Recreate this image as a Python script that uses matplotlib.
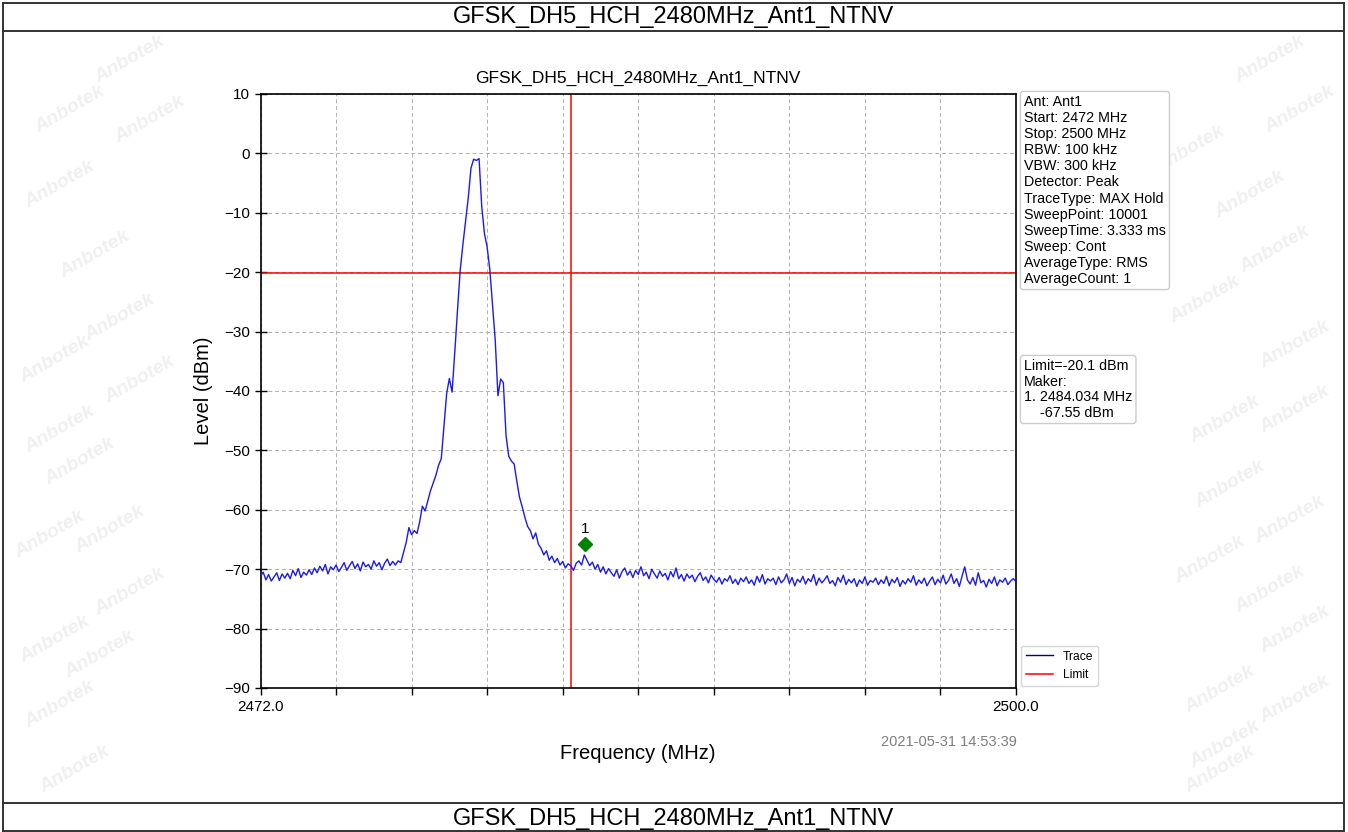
import numpy as np
import matplotlib
matplotlib.use("Agg")
import matplotlib.pyplot as plt
from matplotlib.lines import Line2D

plt.rcParams['font.family'] = ['Liberation Sans', 'DejaVu Sans']

# ---------------- data ----------------
title = "GFSK_DH5_HCH_2480MHz_Ant1_NTNV"
f_start, f_stop = 2472.0, 2500.0
limit_level = -20.1
band_edge = 2483.5
marker_freq = 2484.034
marker_level = -67.55
marker_draw_level = -65.8
y_ticks = [10, 0, -10, -20, -30, -40, -50, -60, -70, -80, -90]
x_tick_step = 2.8

levels = [
    # 2472.0 - 2472.9
    -71.2, -70.5, -71.8, -70.9, -72.0, -71.3, -70.6, -71.9, -70.8, -71.5,
    # 2473
    -70.7, -71.6, -70.2, -71.1, -69.9, -71.4, -70.5, -71.0, -70.1, -70.9,
    # 2474
    -69.8, -70.6, -69.5, -70.3, -69.2, -70.8, -69.6, -70.1, -69.3, -70.4,
    # 2475
    -69.7, -68.9, -70.2, -69.4, -68.7, -69.9, -69.1, -70.3, -68.8, -69.6,
    # 2476
    -69.2, -70.0, -68.6, -69.5, -68.9, -70.1, -69.0, -68.3, -69.4, -68.7,
    # 2477
    -69.3, -68.6, -68.9, -67.2, -65.5, -63.0, -64.2, -63.5, -64.0, -62.0,
    # 2478
    -59.4, -60.2, -58.5, -56.8, -55.5, -54.2, -52.5, -51.4, -46.0, -40.4,
    # 2479
    -37.9, -40.2, -33.5, -26.5, -19.8, -15.4, -11.5, -7.5, -2.5, -1.0,
    # 2480
    -1.2, -0.9, -9.0, -13.5, -15.8, -19.6, -25.5, -31.5, -40.8, -38.0,
    # 2481
    -38.6, -47.5, -51.0, -51.8, -52.3, -55.2, -57.9, -59.5, -61.3, -62.8,
    # 2482
    -63.5, -64.9, -63.9, -65.8, -66.5, -67.6, -66.9, -68.5, -67.8, -68.9,
    # 2483
    -68.2, -69.3, -68.7, -69.8, -69.1, -69.4, -70.2, -69.0, -68.6, -69.3,
    # 2484
    -67.6, -68.5, -69.4, -68.8, -70.0, -69.2, -70.5, -69.6, -70.8, -69.9,
    # 2485
    -70.6, -71.2, -70.1, -71.5, -70.4, -69.8, -71.0, -70.3, -71.4, -70.2,
    # 2486
    -70.9, -69.6, -71.1, -70.5, -71.6, -70.0, -70.8, -71.5, -70.3, -71.2,
    # 2487
    -70.7, -71.8, -70.4, -71.3, -69.8, -71.6, -70.9, -72.0, -70.8, -71.5,
    # 2488
    -71.0, -72.1, -71.2, -70.6, -71.9, -71.3, -72.3, -71.0, -71.7, -72.2,
    # 2489
    -71.4, -72.5, -71.6, -72.0, -71.1, -72.4, -71.7, -72.6, -71.5, -72.1,
    # 2490
    -71.3, -72.4, -71.8, -72.7, -71.2, -72.2, -70.9, -72.5, -71.6, -72.0,
    # 2491
    -71.5, -72.6, -71.3, -72.3, -71.8, -70.8, -72.4, -71.4, -72.8, -71.7,
    # 2492
    -72.2, -71.2, -72.5, -71.6, -72.1, -70.9, -72.7, -71.5, -72.3, -71.8,
    # 2493
    -71.1, -72.4, -71.9, -72.8, -71.4, -72.2, -71.0, -72.6, -71.7, -72.3,
    # 2494
    -71.6, -72.9, -71.8, -72.4, -71.3, -72.7, -71.9, -72.2, -71.5, -72.6,
    # 2495
    -71.8, -72.4, -71.2, -72.8, -71.7, -72.3, -71.4, -72.9, -71.9, -72.5,
    # 2496
    -71.6, -72.2, -71.1, -72.7, -71.8, -72.4, -71.5, -72.8, -72.0, -71.3,
    # 2497
    -72.6, -71.7, -72.3, -71.0, -72.5, -71.9, -70.8, -72.4, -71.6, -72.9,
    # 2498
    -71.2, -69.6, -71.8, -72.5, -71.4, -72.7, -70.6, -72.3, -71.9, -73.0,
    # 2499
    -71.7, -72.4, -71.3, -72.8, -71.8, -72.2, -71.5, -72.6, -72.0, -71.6,
    # 2500
    -72.1,
]
freqs = np.linspace(f_start, f_stop, len(levels))

info_text = ("Ant: Ant1\nStart: 2472 MHz\nStop: 2500 MHz\nRBW: 100 kHz\nVBW: 300 kHz\n"
             "Detector: Peak\nTraceType: MAX Hold\nSweepPoint: 10001\nSweepTime: 3.333 ms\n"
             "Sweep: Cont\nAverageType: RMS\nAverageCount: 1")
marker_text = ("Limit=-20.1 dBm\nMaker:\n1. 2484.034 MHz\n    -67.55 dBm")
date_text = "2021-05-31 14:53:39"

# ---------------- figure ----------------
W, H = 1348, 832
fig = plt.figure(figsize=(W / 100, H / 100), dpi=100)


def fx(x):
    return x / W


def fy(y):
    return 1 - y / H


# faint watermarks
wm_pos = [(130, 60), (1270, 60), (70, 110), (150, 120), (60, 185), (95, 255), (120, 318),
          (55, 360), (140, 380), (60, 430), (80, 462), (110, 530), (50, 535), (130, 592),
          (100, 655), (55, 640), (60, 705), (75, 770), (1220, 770),
          (1300, 110), (1190, 150), (1250, 195), (1275, 250), (1205, 300),
          (1295, 345), (1225, 420), (1295, 410), (1230, 485), (1290, 520), (1210, 560),
          (1270, 590), (1295, 630), (1220, 690), (1295, 700), (1225, 745)]
for (x, y) in wm_pos:
    fig.text(fx(x), fy(y), "Anbotek", rotation=30, fontsize=14, color="#f0f0f0",
             fontweight="bold", style="italic", ha="center", va="center", zorder=0)

# frame lines
for y in [3, 31, 803, 831]:
    fig.add_artist(Line2D([fx(3), fx(1344)], [fy(y), fy(y)], color="#333333", lw=1.4))
for x in [3, 1344]:
    fig.add_artist(Line2D([fx(x), fx(x)], [fy(3), fy(831)], color="#333333", lw=1.4))

fig.text(fx(674), fy(17), title, fontsize=17, ha="center", va="center")
fig.text(fx(674), fy(819), title, fontsize=17, ha="center", va="center")

ax = fig.add_axes([fx(260.5), fy(688), (1016 - 260.5) / W, (688 - 93.9) / H])
ax.set_facecolor("none")

ax.plot(freqs, levels, color="#1a1aee", lw=1.0, label="Trace", zorder=3)
ax.axhline(limit_level, color="red", lw=1.1, label="Limit", zorder=2.5)
ax.axvline(band_edge, color="red", lw=1.1, zorder=2.5)
ax.plot([marker_freq], [marker_draw_level], marker="D", color="green", markersize=7,
        linestyle="none", zorder=4)
ax.text(marker_freq, marker_draw_level + 1.4, "1", fontsize=11, ha="center",
        va="bottom")

ax.set_xlim(f_start, f_stop)
ax.set_ylim(-90, 10)
xt = [f_start + x_tick_step * k for k in range(11)]
ax.set_xticks(xt)
ax.set_xticklabels(["%.1f" % xt[0]] + [""] * 9 + ["%.1f" % xt[-1]])
ax.set_yticks(y_ticks)
ax.set_yticklabels([("\u2212%d" % -v) if v < 0 else "%d" % v for v in y_ticks])
ax.tick_params(axis="both", labelsize=11, length=5, width=1.0)
ax.tick_params(axis="y", direction="inout", length=8)
ax.grid(True, linestyle=(0, (4, 3)), color="#b0b0b0", lw=0.7)
for s in ax.spines.values():
    s.set_linewidth(1.2)

ax.set_title(title, fontsize=12.5, pad=8)
ax.set_xlabel("Frequency (MHz)", fontsize=14.5, labelpad=22)
ax.set_ylabel("Level (dBm)", fontsize=14.5, labelpad=8)

fig.text(fx(1017), fy(742), date_text, fontsize=10.5, color="#7f7f7f",
         ha="right", va="center")

box = dict(boxstyle="round,pad=0.25,rounding_size=0.2", fc="white", ec="#cccccc", lw=1)
fig.text(fx(1024), fy(95), info_text, fontsize=10.3, ha="left", va="top",
         linespacing=1.19, bbox=box)
fig.text(fx(1024), fy(359), marker_text, fontsize=10.3, ha="left", va="top",
         linespacing=1.15, bbox=box)

leg = ax.legend(loc="lower left", bbox_to_anchor=(1.003, 0.0), fontsize=8.7,
                frameon=True, fancybox=True, edgecolor="#cccccc", handlelength=2.3,
                borderaxespad=0.2)
leg.get_lines()[0].set_color("navy")

fig.savefig("out.png", dpi=100)
